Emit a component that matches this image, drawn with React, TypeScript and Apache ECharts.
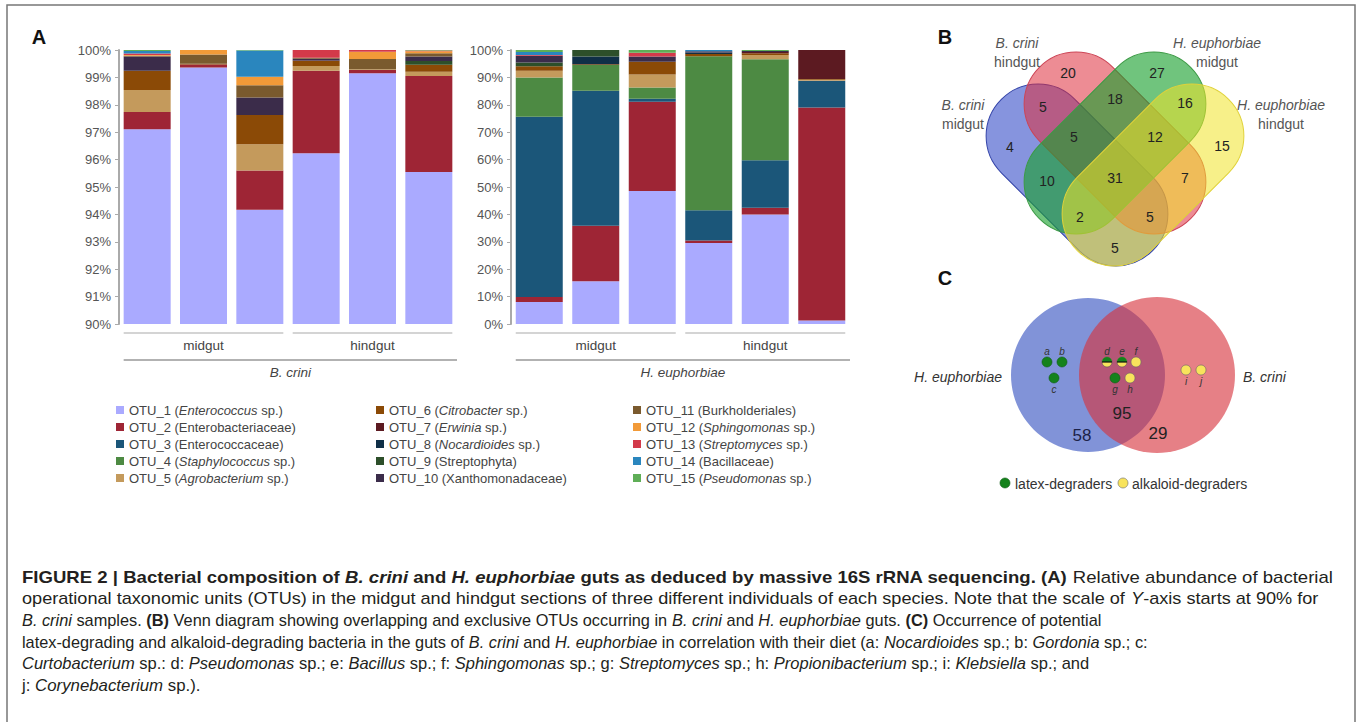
import React, { useEffect, useRef } from 'react';
import * as echarts from 'echarts';

const FONT = '"Liberation Sans", Arial, Helvetica, sans-serif';

// ---------- DATA ----------
const otuIds = ['OTU_1', 'OTU_2', 'OTU_3', 'OTU_4', 'OTU_5', 'OTU_6', 'OTU_7', 'OTU_8', 'OTU_9', 'OTU_10', 'OTU_11', 'OTU_12', 'OTU_13', 'OTU_14', 'OTU_15'];
const otuItalic = ['Enterococcus', '', '', 'Staphylococcus', 'Agrobacterium', 'Citrobacter', 'Erwinia', 'Nocardioides', '', '', '', 'Sphingomonas', 'Streptomyces', '', 'Pseudomonas'];
const otuPlain = [' sp.', 'Enterobacteriaceae', 'Enterococcaceae', ' sp.', ' sp.', ' sp.', ' sp.', ' sp.', 'Streptophyta', 'Xanthomonadaceae', 'Burkholderiales', ' sp.', ' sp.', 'Bacillaceae', ' sp.'];
const otuColors = ['#aaaaff', '#9e2535', '#1b5679', '#4d8a43', '#c49a5c', '#8b4a06', '#5c1a21', '#0f2f47', '#2d4f2a', '#3b2c4a', '#7a5a2e', '#f29a38', '#d33a4a', '#2a86be', '#5fae57'];

const sampleCategories = ['midgut 1', 'midgut 2', 'midgut 3', 'hindgut 1', 'hindgut 2', 'hindgut 3'];
const gutSections = ['midgut', 'hindgut'];
const speciesNames = ['B. crini', 'H. euphorbiae'];

// rows: OTU_1..OTU_15 ; columns: samples (midgut 1-3, hindgut 1-3), % relative abundance
const bCriniAbundance = [
  [97.11, 99.36, 94.17, 96.23, 99.15, 95.55],
  [0.63, 0.11, 1.43, 3.01, 0.12, 3.5],
  [0, 0, 0, 0, 0, 0],
  [0, 0, 0, 0, 0, 0],
  [0.8, 0, 0.96, 0.18, 0.03, 0.16],
  [0.7, 0.03, 1.07, 0.18, 0, 0.25],
  [0, 0, 0, 0.02, 0, 0],
  [0, 0, 0, 0, 0, 0],
  [0, 0, 0, 0, 0, 0.14],
  [0.52, 0, 0.64, 0.06, 0, 0.16],
  [0.03, 0.34, 0.44, 0.04, 0.37, 0.12],
  [0.03, 0.16, 0.31, 0, 0.27, 0.07],
  [0.05, 0, 0, 0.28, 0.06, 0.03],
  [0.09, 0, 0.96, 0, 0, 0],
  [0.04, 0, 0.02, 0, 0, 0.02],
];
const hEuphorbiaeAbundance = [
  [8.0, 15.6, 48.5, 29.6, 40.0, 1.3],
  [1.85, 20.3, 32.6, 0.9, 2.4, 77.7],
  [65.75, 49.2, 1.1, 11.0, 17.4, 9.8],
  [14.4, 9.4, 4.1, 56.2, 36.8, 0],
  [2.4, 0, 4.8, 0, 1.6, 0.3],
  [1.7, 0.3, 4.6, 0.8, 0.6, 0.3],
  [0, 0, 0, 0, 0.5, 10.6],
  [0, 2.8, 0, 0.6, 0, 0],
  [1.3, 2.4, 0, 0, 0, 0],
  [2.5, 0, 1.9, 0.4, 0.3, 0],
  [0, 0, 0, 0, 0, 0],
  [0, 0, 0, 0, 0, 0],
  [0.3, 0, 1.4, 0, 0, 0],
  [1.1, 0, 0, 0.5, 0, 0],
  [0.7, 0, 1.0, 0, 0.4, 0],
];

// Venn B: four gut sets
const vennSetTitles = [['B. crini', 'midgut'], ['B. crini', 'hindgut'], ['H. euphorbiae', 'midgut'], ['H. euphorbiae', 'hindgut']];
const vennRegionCounts = [20, 27, 5, 18, 16, 4, 5, 12, 15, 10, 31, 7, 2, 5, 5];

// Venn C
const vennCSets = ['H. euphorbiae', 'B. crini'];
const vennCCounts = [58, 95, 29];
const degraderLetters = ['a', 'b', 'c', 'd', 'e', 'f', 'g', 'h', 'i', 'j'];
const degraderTypes = ['latex', 'latex', 'latex', 'both', 'both', 'alkaloid', 'latex', 'alkaloid', 'alkaloid', 'alkaloid'];
const degraderLegend = ['latex-degraders', 'alkaloid-degraders'];

// ---------- LAYOUT ----------
const GRID_TOP = 50;
const GRID_H = 274;
const GRID_L = { left: 119, width: 338 };
const GRID_R = { left: 511, width: 339 };
const BAR_W = 47;

const vennLayout = [
  { cx: 1077, cy: 175, rot: -Math.PI / 4, fill: 'rgba(35,60,195,0.55)', stroke: '#3343a8' },
  { cx: 1115, cy: 143, rot: -Math.PI / 4, fill: 'rgba(222,45,60,0.55)', stroke: '#cc4455' },
  { cx: 1115, cy: 143, rot: Math.PI / 4, fill: 'rgba(25,160,45,0.62)', stroke: '#3c9a45' },
  { cx: 1153, cy: 175, rot: Math.PI / 4, fill: 'rgba(240,228,40,0.55)', stroke: '#e0d23a' },
];
const vennTitlePos = [[963, 114], [1017, 52], [1217, 52], [1281, 114]];
const vennCountPos = [[1068, 73], [1157, 73], [1043, 107], [1115, 99], [1185, 103], [1010, 147], [1074, 137], [1155, 137], [1222, 146], [1047, 181], [1115, 178], [1185, 178], [1080, 217], [1150, 217], [1115, 248]];

const degraderPos = [[1047, 362], [1062, 362], [1054, 378], [1107, 362], [1122, 362], [1136, 362], [1115, 378], [1130, 378], [1186, 370], [1201, 370]];
const degraderLabelDy = [-11, -11, 11, -11, -11, -11, 11, 11, 11, 11];

const captionLines: [string, string][][] = [
  [['b', 'FIGURE 2 | Bacterial composition of '], ['bi', 'B. crini'], ['b', ' and '], ['bi', 'H. euphorbiae'], ['b', ' guts as deduced by massive 16S rRNA sequencing. (A)'], ['n', ' Relative abundance of bacterial']],
  [['n', 'operational taxonomic units (OTUs) in the midgut and hindgut sections of three different individuals of each species. Note that the scale of '], ['i', 'Y'], ['n', '-axis starts at 90% for']],
  [['i', 'B. crini'], ['n', ' samples. '], ['b', '(B)'], ['n', ' Venn diagram showing overlapping and exclusive OTUs occurring in '], ['i', 'B. crini'], ['n', ' and '], ['i', 'H. euphorbiae'], ['n', ' guts. '], ['b', '(C)'], ['n', ' Occurrence of potential']],
  [['n', 'latex-degrading and alkaloid-degrading bacteria in the guts of '], ['i', 'B. crini'], ['n', ' and '], ['i', 'H. euphorbiae'], ['n', ' in correlation with their diet (a: '], ['i', 'Nocardioides'], ['n', ' sp.; b: '], ['i', 'Gordonia'], ['n', ' sp.; c:']],
  [['i', 'Curtobacterium'], ['n', ' sp.: d: '], ['i', 'Pseudomonas'], ['n', ' sp.; e: '], ['i', 'Bacillus'], ['n', ' sp.; f: '], ['i', 'Sphingomonas'], ['n', ' sp.; g: '], ['i', 'Streptomyces'], ['n', ' sp.; h: '], ['i', 'Propionibacterium'], ['n', ' sp.; i: '], ['i', 'Klebsiella'], ['n', ' sp.; and']],
  [['n', 'j: '], ['i', 'Corynebacterium'], ['n', ' sp.).']],
];
// target widths of the first five lines; the short last line takes the mean scale of lines 2-5
const captionTargetW = [1311, 1296, 1080, 1126, 1067];
const captionY = [577, 599, 620, 642, 663, 685];
const CAP_SIZE = 16;

const seriesNames = otuIds.map((id, i) => `${id} (${otuItalic[i]}${otuPlain[i]})`);

function measureSegs(segs: [string, string][], size: number) {
  const ctx = document.createElement('canvas').getContext('2d')!;
  let w = 0;
  for (const [s, t] of segs) {
    ctx.font = `${s.includes('i') ? 'italic ' : ''}${s.includes('b') ? 'bold ' : ''}${size}px ${FONT}`;
    w += ctx.measureText(t).width;
  }
  return w;
}

function txt(x: number, y: number, text: string, extra: any = {}, elExtra: any = {}) {
  return {
    type: 'text', x, y, silent: true, ...elExtra,
    style: { text, fontFamily: FONT, fontSize: 14, fill: '#222', align: 'center', verticalAlign: 'middle', ...extra },
  };
}

function buildOption() {
  const series: any[] = [];
  otuIds.forEach((_, i) => {
    series.push({
      type: 'bar', name: seriesNames[i], xAxisIndex: 0, yAxisIndex: 0, stack: 'bcrini',
      barWidth: BAR_W, data: bCriniAbundance[i], itemStyle: { color: otuColors[i] }, clip: true,
    });
  });
  otuIds.forEach((_, i) => {
    series.push({
      type: 'bar', name: seriesNames[i], xAxisIndex: 1, yAxisIndex: 1, stack: 'heuph',
      barWidth: BAR_W, data: hEuphorbiaeAbundance[i], itemStyle: { color: otuColors[i] }, clip: true,
    });
  });

  const legendRich = {
    n: { fontFamily: FONT, fontSize: 13, color: '#444', lineHeight: 14 },
    i: { fontFamily: FONT, fontSize: 13, color: '#444', fontStyle: 'italic', lineHeight: 14 },
  };
  const legendFormatter = (name: string) => {
    const i = seriesNames.indexOf(name);
    if (otuItalic[i]) return `{n|${otuIds[i]} (}{i|${otuItalic[i]}}{n|${otuPlain[i]})}`;
    return `{n|${otuIds[i]} (${otuPlain[i]})}`;
  };
  const legendCols = [116, 376, 633];
  const legend = legendCols.map((left, c) => ({
    data: seriesNames.slice(c * 5, c * 5 + 5),
    orient: 'vertical', left, top: 403, padding: 0, itemGap: 3,
    icon: 'rect', itemWidth: 8, itemHeight: 8, itemTextGap: 8,
    selectedMode: false, formatter: legendFormatter,
    textStyle: { fontFamily: FONT, fontSize: 13, color: '#444', lineHeight: 14, rich: legendRich },
  }));

  const yAxisCommon = {
    type: 'value',
    axisLine: { show: true, lineStyle: { color: '#aaa', width: 2 } },
    axisTick: { show: true, length: 4, lineStyle: { color: '#aaa' } },
    splitLine: { show: false },
    axisLabel: { formatter: '{value}%', color: '#555', fontSize: 13, fontFamily: FONT, margin: 8 },
  };

  const g: any[] = [];
  // outer frame
  g.push({ type: 'rect', silent: true, shape: { x: 7, y: 5, width: 1348, height: 740 }, style: { fill: 'none', stroke: '#777', lineWidth: 1.5 } });
  // panel letters
  g.push(txt(39, 37, 'A', { fontSize: 20, fontWeight: 'bold', fill: '#111' }));
  g.push(txt(945, 37, 'B', { fontSize: 20, fontWeight: 'bold', fill: '#111' }));
  g.push(txt(945, 278, 'C', { fontSize: 20, fontWeight: 'bold', fill: '#111' }));

  // group lines / labels under bar charts
  [GRID_L, GRID_R].forEach((gr, k) => {
    const cw = gr.width / sampleCategories.length;
    const barLeft = (j: number) => gr.left + cw * (j + 0.5) - BAR_W / 2;
    const barRight = (j: number) => gr.left + cw * (j + 0.5) + BAR_W / 2;
    gutSections.forEach((sec, s) => {
      const x1 = barLeft(s * 3), x2 = barRight(s * 3 + 2);
      g.push({ type: 'line', silent: true, shape: { x1, y1: 333, x2, y2: 333 }, style: { stroke: '#aaa', lineWidth: 1.2 } });
      g.push(txt((x1 + x2) / 2, 345, sec, { fontSize: 13.5, fill: '#444' }));
    });
    const X1 = barLeft(0), X2 = gr.left + gr.width;
    g.push({ type: 'line', silent: true, shape: { x1: X1, y1: 360, x2: X2, y2: 360 }, style: { stroke: '#999', lineWidth: 1.5 } });
    g.push(txt((X1 + X2) / 2, 372, speciesNames[k], { fontSize: 13.5, fill: '#444', fontStyle: 'italic' }));
  });

  // Venn B
  const CL = 214, CW = 104;
  vennLayout.forEach((v) => {
    g.push({
      type: 'rect', silent: true, x: v.cx, y: v.cy, rotation: v.rot,
      shape: { x: -CL / 2, y: -CW / 2, width: CL, height: CW, r: CW / 2 },
      style: { fill: v.fill, stroke: v.stroke, lineWidth: 1 },
    });
  });
  vennSetTitles.forEach((t, i) => {
    g.push(txt(vennTitlePos[i][0], vennTitlePos[i][1], `{i|${t[0]}}\n{n|${t[1]}}`, {
      fill: '#555', lineHeight: 19,
      rich: {
        i: { fontFamily: FONT, fontSize: 14, fontStyle: 'italic', fill: '#555', lineHeight: 19 },
        n: { fontFamily: FONT, fontSize: 14, fill: '#555', lineHeight: 19 },
      },
    }));
  });
  vennRegionCounts.forEach((c, i) => {
    g.push(txt(vennCountPos[i][0], vennCountPos[i][1], String(c), { fontSize: 14, fill: '#222' }));
  });

  // Venn C
  g.push({ type: 'circle', silent: true, shape: { cx: 1088, cy: 375, r: 77 }, style: { fill: 'rgba(45,75,190,0.6)', stroke: 'none' } });
  g.push({ type: 'circle', silent: true, shape: { cx: 1157, cy: 375, r: 78 }, style: { fill: 'rgba(215,50,60,0.62)', stroke: 'none' } });
  g.push(txt(1002, 377, vennCSets[0], { fontSize: 14, fontStyle: 'italic', fill: '#333', align: 'right' }));
  g.push(txt(1243, 377, vennCSets[1], { fontSize: 14, fontStyle: 'italic', fill: '#333', align: 'left' }));
  g.push(txt(1082, 435, String(vennCCounts[0]), { fontSize: 17, fill: '#1c2248' }));
  g.push(txt(1122, 413, String(vennCCounts[1]), { fontSize: 17, fill: '#222' }));
  g.push(txt(1158, 433, String(vennCCounts[2]), { fontSize: 17, fill: '#222' }));
  const GREEN = '#14821c', YELLOW = '#f8e35c';
  degraderLetters.forEach((l, i) => {
    const [cx, cy] = degraderPos[i];
    const t = degraderTypes[i];
    if (t === 'both') {
      g.push({ type: 'circle', silent: true, shape: { cx, cy, r: 5 }, style: { fill: YELLOW, stroke: '#555', lineWidth: 0.6 } });
      g.push({ type: 'sector', silent: true, shape: { cx, cy, r: 5, r0: 0, startAngle: Math.PI, endAngle: Math.PI * 2, clockwise: true }, style: { fill: GREEN } });
      g.push({ type: 'line', silent: true, shape: { x1: cx - 5, y1: cy, x2: cx + 5, y2: cy }, style: { stroke: '#111', lineWidth: 1.2 } });
    } else {
      g.push({ type: 'circle', silent: true, shape: { cx, cy, r: 5 }, style: { fill: t === 'latex' ? GREEN : YELLOW, stroke: t === 'latex' ? '#0d5a14' : '#666', lineWidth: 0.6 } });
    }
    g.push(txt(cx, cy + degraderLabelDy[i], l, { fontSize: 10, fontStyle: 'italic', fill: '#333' }));
  });
  g.push({ type: 'circle', silent: true, shape: { cx: 1005, cy: 483, r: 5 }, style: { fill: GREEN, stroke: '#0d5a14', lineWidth: 0.6 } });
  g.push(txt(1015, 484, degraderLegend[0], { fontSize: 14, fill: '#333', align: 'left' }));
  g.push({ type: 'circle', silent: true, shape: { cx: 1123, cy: 483, r: 5 }, style: { fill: YELLOW, stroke: '#666', lineWidth: 0.6 } });
  g.push(txt(1132, 484, degraderLegend[1], { fontSize: 14, fill: '#333', align: 'left' }));

  // caption: each line fitted horizontally to its width in the reference
  const capRich = {
    n: { fontFamily: FONT, fontSize: CAP_SIZE, fill: '#231f20' },
    i: { fontFamily: FONT, fontSize: CAP_SIZE, fill: '#231f20', fontStyle: 'italic' },
    b: { fontFamily: FONT, fontSize: CAP_SIZE, fill: '#231f20', fontWeight: 'bold' },
    bi: { fontFamily: FONT, fontSize: CAP_SIZE, fill: '#231f20', fontWeight: 'bold', fontStyle: 'italic' },
  };
  const scales = captionTargetW.map((w, li) => w / measureSegs(captionLines[li], CAP_SIZE));
  const meanBody = (scales[1] + scales[2] + scales[3] + scales[4]) / 4;
  captionLines.forEach((segs, li) => {
    const sx = li < scales.length ? scales[li] : meanBody;
    g.push({
      type: 'text', silent: true, x: 22, y: captionY[li], scaleX: sx,
      style: {
        text: segs.map(([s, t]) => `{${s}|${t}}`).join(''),
        rich: capRich, fontFamily: FONT, fontSize: CAP_SIZE, fill: '#231f20', align: 'left', verticalAlign: 'middle',
      },
    });
  });

  return {
    animation: false,
    backgroundColor: '#fff',
    textStyle: { fontFamily: FONT },
    grid: [
      { left: GRID_L.left, top: GRID_TOP, width: GRID_L.width, height: GRID_H },
      { left: GRID_R.left, top: GRID_TOP, width: GRID_R.width, height: GRID_H },
    ],
    xAxis: [
      { type: 'category', gridIndex: 0, data: sampleCategories, show: false },
      { type: 'category', gridIndex: 1, data: sampleCategories, show: false },
    ],
    yAxis: [
      { ...yAxisCommon, gridIndex: 0, min: 90, max: 100, interval: 1 },
      { ...yAxisCommon, gridIndex: 1, min: 0, max: 100, interval: 10 },
    ],
    legend,
    series,
    graphic: g,
  };
}

export default function App() {
  const ref = useRef<HTMLDivElement>(null);
  useEffect(() => {
    const chart = echarts.init(ref.current!, undefined, { renderer: 'svg' });
    chart.setOption(buildOption() as any);
    return () => chart.dispose();
  }, []);
  return <div ref={ref} style={{ position: 'fixed', left: 0, top: 0, width: 1357, height: 722 }} />;
}
